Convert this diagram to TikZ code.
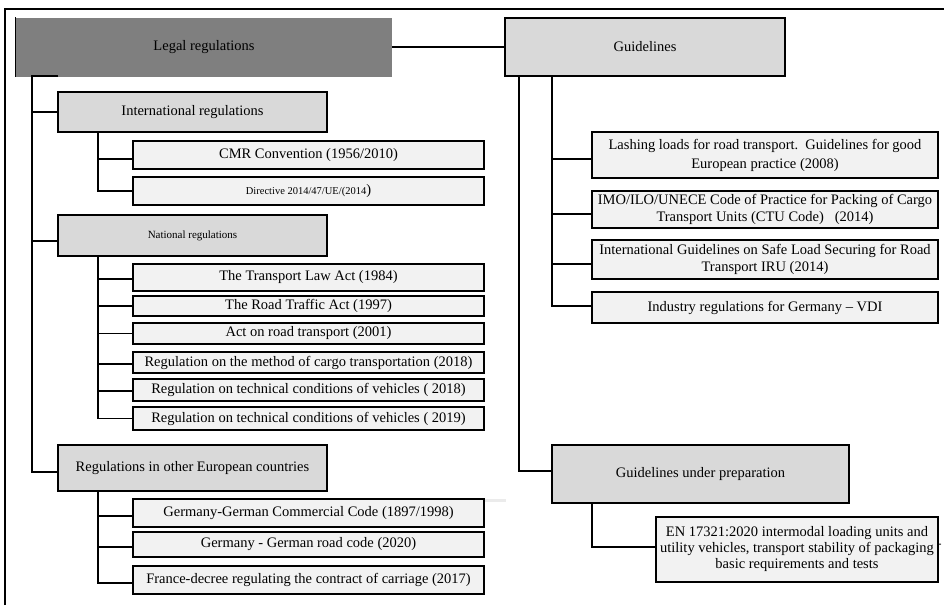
\documentclass[tikz,border=0pt]{standalone}
\usepackage{fontspec}
\setmainfont{Liberation Serif}
\definecolor{leaffill}{HTML}{F2F2F2}
\definecolor{midfill}{HTML}{D9D9D9}
\definecolor{topfill}{HTML}{7F7F7F}
\tikzset{
  base/.style={inner sep=0pt, align=center, text=black, font=\fontsize{14.5}{17}\selectfont},
  leaf/.style={base, draw=black, line width=1.3pt, fill=leaffill},
  mid/.style={base, draw=black, line width=1.3pt, fill=midfill},
  conn/.style={draw=black, line width=1.1pt},
}
\begin{document}
\begin{tikzpicture}[x=1pt,y=-1pt]
\useasboundingbox (0,0) rectangle (944,605);
% outer frame
\draw[line width=1.1pt] (5,605) -- (5,9) -- (944,9);
\draw[black!8, line width=3pt] (470,500) -- (506,500);
% top level
\node[base, fill=topfill, minimum width=376pt, minimum height=59pt] (legal) at (204,47) {Legal regulations};
\draw[line width=1.3pt] (legal.north west) -- (legal.south west);
\node[mid, minimum width=280pt, minimum height=58pt] (guide) at (645,47) {Guidelines};
\draw[conn] (legal.east) -- (legal.east -| guide.west);
% left middle
\node[mid, minimum width=269pt, minimum height=40pt] (intl) at (192.5,112) {International regulations};
\node[mid, minimum width=269pt, minimum height=41pt, font=\fontsize{11}{13}\selectfont] (natl) at (192.5,235.5) {National regulations};
\node[mid, minimum width=269pt, minimum height=46pt] (other) at (192.5,468) {Regulations in other European countries};
% left leaves
\node[leaf, minimum width=351pt, minimum height=28pt] (cmr) at (308.5,155) {CMR Convention (1956/2010)};
\node[leaf, minimum width=351pt, minimum height=28pt] (dir) at (308.5,191) {{\fontsize{10.5}{12}\selectfont Directive 2014/47/UE/(2014})};
\node[leaf, minimum width=351pt, minimum height=27pt] (tla) at (308.5,277.5) {The Transport Law Act (1984)};
\node[leaf, minimum width=351pt, minimum height=20pt] (rta) at (308.5,306) {The Road Traffic Act (1997)};
\node[leaf, minimum width=351pt, minimum height=21pt] (act) at (308.5,333.5) {Act on road transport (2001)};
\node[leaf, minimum width=351pt, minimum height=21pt] (meth) at (308.5,362.5) {Regulation on the method of cargo transportation (2018)};
\node[leaf, minimum width=351pt, minimum height=22pt] (tech18) at (308.5,390) {Regulation on technical conditions of vehicles ( 2018)};
\node[leaf, minimum width=351pt, minimum height=23pt] (tech19) at (308.5,418.5) {Regulation on technical conditions of vehicles ( 2019)};
\node[leaf, minimum width=351pt, minimum height=28pt] (ger1) at (308.5,513) {Germany-German Commercial Code (1897/1998)};
\node[leaf, minimum width=351pt, minimum height=25pt] (ger2) at (308.5,544.5) {Germany - German road code (2020)};
\node[leaf, minimum width=351pt, minimum height=28pt] (fra) at (308.5,580) {France-decree regulating the contract of carriage (2017)};
% right
\node[leaf, minimum width=346pt, minimum height=46pt, font=\fontsize{14.5}{19}\selectfont] (lash) at (765,155) {Lashing loads for road transport.\ \ Guidelines for good\\European practice (2008)};
\node[leaf, minimum width=346pt, minimum height=37pt] (imo) at (765,209.5) {IMO/ILO/UNECE Code of Practice for Packing of Cargo\\Transport Units (CTU Code)\ \ \ (2014)};
\node[leaf, minimum width=346pt, minimum height=39pt] (iru) at (765,259.5) {International Guidelines on Safe Load Securing for Road\\Transport IRU (2014)};
\node[leaf, minimum width=346pt, minimum height=31pt] (ind) at (765,307.5) {Industry regulations for Germany -- VDI};
\node[mid, minimum width=297pt, minimum height=58pt] (prep) at (700.5,474) {Guidelines under preparation};
\node[leaf, minimum width=282pt, minimum height=65pt, font=\fontsize{14.5}{16}\selectfont] (en) at (797,549.5) {EN 17321:2020 intermodal loading units and\\utility vehicles, transport stability of packaging\\basic requirements and tests};
\node[base, font=\fontsize{12}{14}\selectfont] (endash) at (939.5,546) {-};
% left trunk
\coordinate (lt) at (32,76);
\coordinate (lstub) at (58,76);
\draw[conn] (lstub) -- (lt) |- ([yshift=-4pt]other.west);
\draw[conn] (lt) |- (intl.west);
\draw[conn] (lt) |- ([yshift=-5.5pt]natl.west);
% intl sub-trunk
\coordinate (s1) at (98,132);
\draw[conn] (s1) |- (dir.west);
\draw[conn] (s1) |- ([yshift=-4pt]cmr.west);
% natl sub-trunk
\coordinate (s2) at (98,256);
\draw[conn] (s2) |- (tech19.west);
\draw[conn] (s2) |- ([yshift=-1.5pt]tla.west);
\draw[conn] (s2) |- (rta.west);
\draw[conn] (s2) |- (act.west);
\draw[conn] (s2) |- ([yshift=-1.5pt]meth.west);
\draw[conn] (s2) |- ([yshift=-1pt]tech18.west);
% other sub-trunk
\coordinate (s3) at (98,491);
\draw[conn] (s3) |- ([yshift=-3pt]fra.west);
\draw[conn] (s3) |- ([yshift=-3pt]ger1.west);
\draw[conn] (s3) |- ([yshift=-2.5pt]ger2.west);
% guidelines trunks
\coordinate (ga) at (519,76);
\coordinate (gb) at (552,76);
\draw[conn] (ga) |- ([yshift=3pt]prep.west);
\draw[conn] (gb) |- ([yshift=1.5pt]ind.west);
\draw[conn] (gb) |- ([yshift=-4pt]lash.west);
\draw[conn] (gb) |- ([yshift=-4.5pt]imo.west);
\draw[conn] (gb) |- ([yshift=-4.5pt]iru.west);
\coordinate (s4) at (592,503);
\draw[conn] (s4) |- ([yshift=2.5pt]en.west);
\end{tikzpicture}
\end{document}
